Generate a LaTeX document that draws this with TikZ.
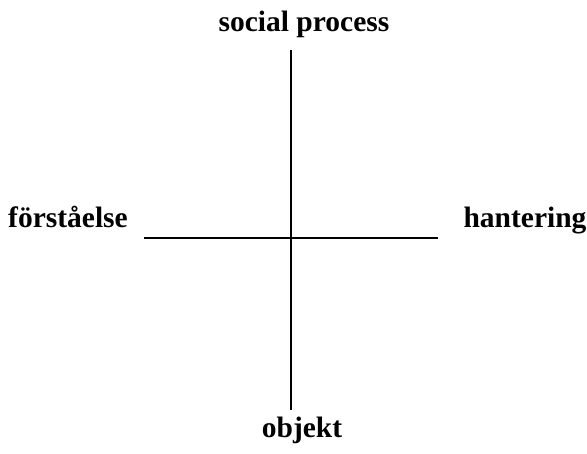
\documentclass[tikz,border=0pt]{standalone}
\usepackage{fontspec}
\setmainfont{Liberation Serif}
\begin{document}
\begin{tikzpicture}[x=1pt,y=-1pt,
  lbl/.style={font=\fontsize{29.5}{32}\selectfont\bfseries, anchor=base, inner sep=0pt},
  axis/.style={line width=1.6pt, black}]
\useasboundingbox (0,0) rectangle (587,453);
\coordinate (top) at (291,50);
\coordinate (bot) at (291,410);
\coordinate (lft) at (144,238);
\coordinate (rgt) at (438,238);
\draw[axis] (top) -- (bot);
\draw[axis] (lft) -- (rgt);
\node[lbl] (sp) at (304,31) {social process};
\node[lbl] (fo) at (68,227) {förståelse};
\node[lbl] (ha) at (525,227) {hantering};
\node[lbl] (ob) at (302,437) {objekt};
\end{tikzpicture}
\end{document}
